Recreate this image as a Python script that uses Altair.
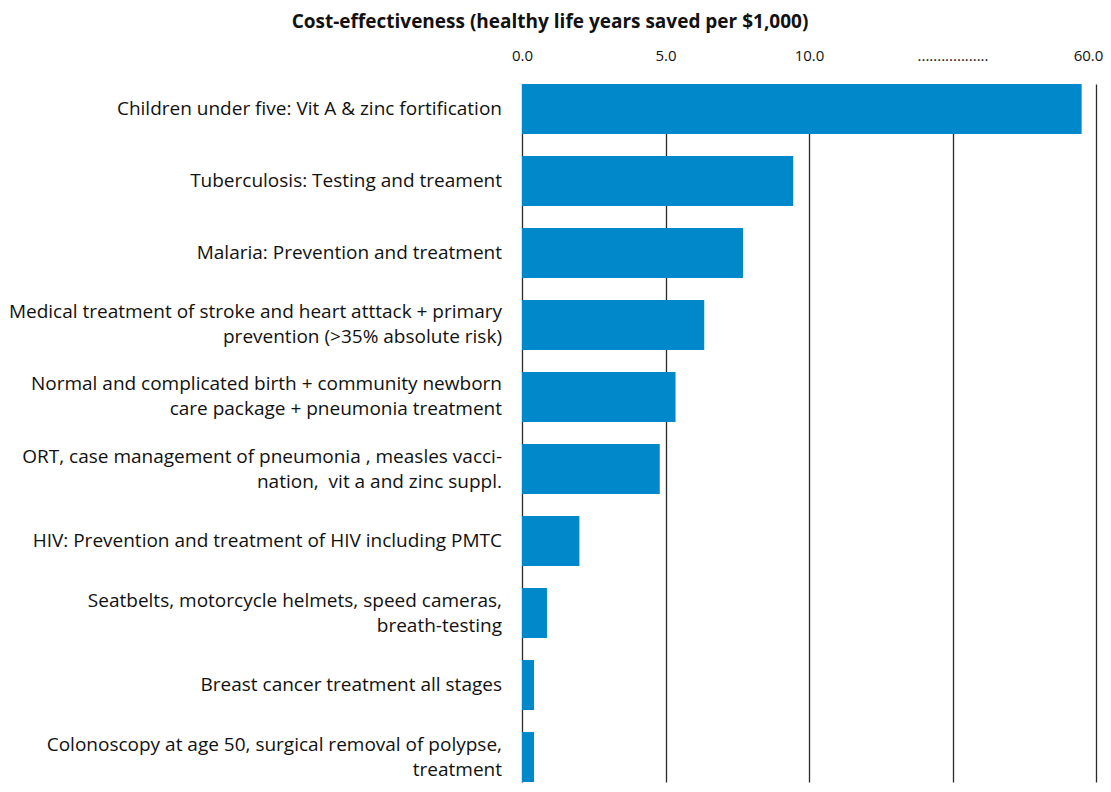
import altair as alt
import pandas as pd

labels = [
    "Children under five: Vit A & zinc fortification",
    "Tuberculosis: Testing and treament",
    "Malaria: Prevention and treatment",
    "Medical treatment of stroke and heart atttack + primary\nprevention (>35% absolute risk)",
    "Normal and complicated birth + community newborn\ncare package + pneumonia treatment",
    "ORT, case management of pneumonia , measles vacci-\nnation, \u00a0vit a and zinc suppl.",
    "HIV: Prevention and treatment of HIV including PMTC",
    "Seatbelts, motorcycle helmets, speed cameras,\nbreath-testing",
    "Breast cancer treatment all stages",
    "Colonoscopy at age 50, surgical removal of polypse,\ntreatment",
]
values = [59.5, 9.45, 7.7, 6.35, 5.35, 4.8, 2.0, 0.87, 0.42, 0.42]
tick_values = [0, 5, 10, 15, 20]
tick_labels = ["0.0", "5.0", "10.0", "..................", "60.0"]

df = pd.DataFrame({"label": labels, "value": values})

FONT = "Open Sans"
BLUE = "#0088CB"

label_expr = " : ".join(
    f"datum.value == {v} ? '{t}'" for v, t in zip(tick_values, tick_labels)
) + " : ''"

base = alt.Chart(df).transform_calculate(
    pos="datum.value > 15 ? 20 - (60 - datum.value) : datum.value",
    multi="indexof(datum.label, '\\n') >= 0",
)

y_enc = alt.Y(
    "label:N",
    sort=labels,
    axis=None,
    scale=alt.Scale(range=[16, 714], paddingInner=0.306, paddingOuter=0),
)

bars = base.mark_bar(color=BLUE).encode(
    x=alt.X(
        "pos:Q",
        scale=alt.Scale(domain=[0, 20], nice=False, zero=True),
        axis=alt.Axis(
            orient="top",
            values=tick_values,
            labelExpr=label_expr,
            title=None,
            domain=False,
            ticks=False,
            grid=True,
            gridColor="#2a2a2a",
            gridWidth=1.3,
            gridOpacity=1,
            labelFont=FONT,
            labelFontSize=15,
            labelColor="#111111",
            labelPadding=5,
            labelFlush=False,
            labelOverlap=False,
            labelOffset={"condition": {"test": "datum.value == 20", "value": -8}, "value": 0},
        ),
    ),
    y=y_enc,
)

text_style = dict(
    align="right",
    baseline="middle",
    font=FONT,
    fontSize=19,
    lineBreak="\n",
    lineHeight=25,
    color="#111111",
)

texts_single = base.transform_filter("!datum.multi").mark_text(**text_style).encode(
    x=alt.value(-20),
    y=y_enc,
    text="label:N",
)

texts_multi = base.transform_filter("datum.multi").mark_text(dy=-12.5, **text_style).encode(
    x=alt.value(-20),
    y=y_enc,
    text="label:N",
)

chart = alt.layer(bars, texts_single, texts_multi).properties(
    width=574,
    height=715,
    autosize=alt.AutoSizeParams(type="none"),
    padding={"left": 514, "top": 60, "right": 7, "bottom": 0},
    title=alt.TitleParams(
        "Cost-effectiveness (healthy life years saved per $1,000)",
        anchor="middle",
        dx=-259,
        offset=16,
        font=FONT,
        fontSize=19,
        fontWeight="bold",
        color="#111111",
    ),
).configure_view(stroke=None)

chart.save("out.html", embed_options={"renderer": "svg", "actions": False})
